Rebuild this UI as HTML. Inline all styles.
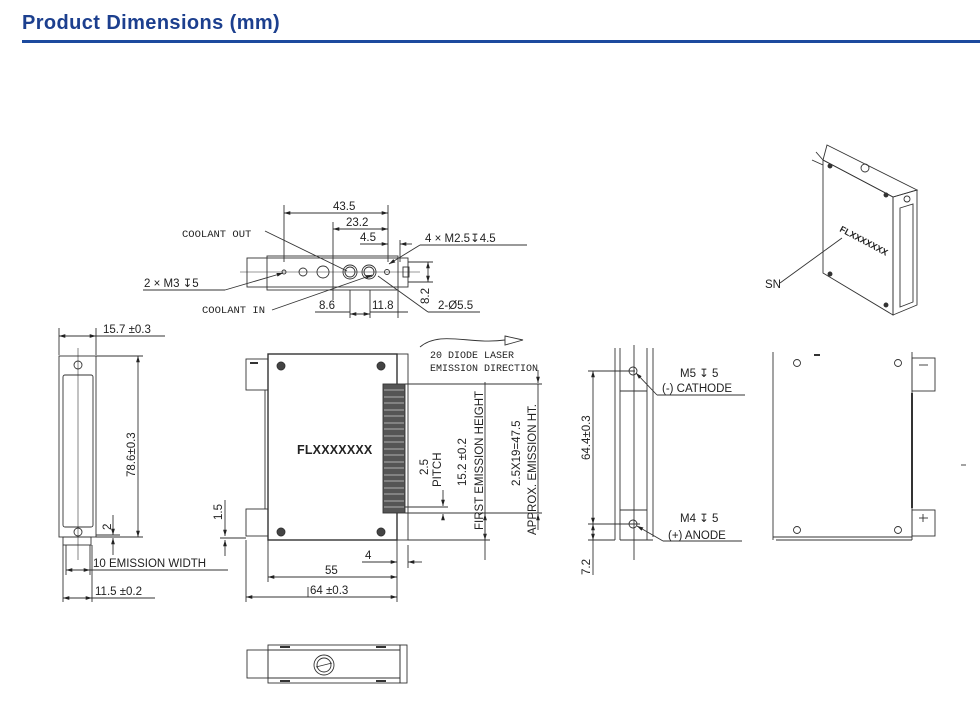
<!DOCTYPE html>
<html><head><meta charset="utf-8"><style>
body{margin:0;background:#fff;width:980px;height:723px;overflow:hidden;position:relative;font-family:"Liberation Sans",sans-serif}
h1{position:absolute;left:22px;top:12px;margin:0;font-size:20px;font-weight:bold;color:#1c3f8e;letter-spacing:0.4px}
.bar{position:absolute;left:22px;top:40px;width:958px;height:3px;background:#1c4a9e}
svg{position:absolute;left:0;top:0}
text{font-family:"Liberation Sans",sans-serif;font-size:11.5px;fill:#222}
.m{font-family:"Liberation Mono",monospace;font-size:10.5px}
</style></head><body>
<h1>Product Dimensions (mm)</h1><div class="bar"></div>
<svg width="980" height="723" viewBox="0 0 980 723">
<defs><marker id="a" viewBox="0 0 10 10" refX="10" refY="5" markerWidth="7" markerHeight="7" orient="auto-start-reverse"><path d="M0,2 L10,5 L0,8z" fill="#222"/></marker></defs>
<g stroke="#333" stroke-width="0.9" fill="none">
<!-- TOP VIEW -->
<rect x="247" y="258" width="161" height="29"/>
<rect x="267" y="256" width="131" height="34"/>
<line x1="240" y1="272" x2="420" y2="272" stroke-width="0.6"/>
<circle cx="284" cy="272" r="2"/><circle cx="303" cy="272" r="4"/><circle cx="323" cy="272" r="6"/>
<circle cx="350" cy="272" r="7"/><circle cx="350" cy="272" r="5"/><circle cx="369" cy="272" r="7"/><circle cx="369" cy="272" r="5"/>
<circle cx="387" cy="272" r="2.5"/><rect x="403" y="267" width="6" height="10"/>
<line x1="284" y1="205" x2="284" y2="262"/><line x1="388" y1="205" x2="388" y2="262"/><line x1="333" y1="222" x2="333" y2="300"/><line x1="400" y1="240" x2="400" y2="262"/>
<line x1="284" y1="213" x2="388" y2="213" marker-start="url(#a)" marker-end="url(#a)"/>
<line x1="333" y1="229" x2="388" y2="229" marker-start="url(#a)" marker-end="url(#a)"/>
<line x1="360" y1="244" x2="388" y2="244" marker-end="url(#a)"/><line x1="412" y1="244" x2="400" y2="244" marker-end="url(#a)"/>
<line x1="527" y1="245" x2="420" y2="245"/><line x1="420" y1="245" x2="389" y2="264" marker-end="url(#a)"/>
<line x1="265" y1="231" x2="347" y2="271"/>
<line x1="143" y1="290" x2="225" y2="290"/><line x1="225" y1="290" x2="283" y2="273" marker-end="url(#a)"/>
<line x1="272" y1="310" x2="372" y2="275" marker-end="url(#a)"/>
<line x1="378" y1="276" x2="428" y2="312"/><line x1="428" y1="312" x2="480" y2="312"/>
<line x1="350" y1="290" x2="350" y2="318"/><line x1="370" y1="290" x2="370" y2="318"/><line x1="398" y1="290" x2="398" y2="318"/>
<line x1="315" y1="312" x2="350" y2="312"/><line x1="350" y1="314" x2="370" y2="314" marker-start="url(#a)" marker-end="url(#a)"/>
<line x1="370" y1="312" x2="408" y2="312"/>
<line x1="408" y1="262" x2="433" y2="262"/><line x1="408" y1="282" x2="433" y2="282"/>
<line x1="428" y1="262" x2="428" y2="282" marker-start="url(#a)" marker-end="url(#a)"/>
<!-- LEFT END VIEW -->
<rect x="59" y="356" width="37" height="181"/>
<rect x="63" y="375" width="30" height="152" rx="2"/>
<line x1="78" y1="348" x2="78" y2="560" stroke-width="0.6"/>
<circle cx="78" cy="365" r="4"/><circle cx="78" cy="532" r="4"/>
<rect x="63" y="537" width="28" height="8"/>
<line x1="59" y1="328" x2="59" y2="355"/><line x1="96" y1="328" x2="96" y2="355"/>
<line x1="59" y1="336" x2="96" y2="336" marker-start="url(#a)" marker-end="url(#a)"/><line x1="96" y1="336" x2="165" y2="336"/>
<line x1="96" y1="356" x2="143" y2="356"/><line x1="96" y1="537" x2="143" y2="537"/>
<line x1="138" y1="356" x2="138" y2="537" marker-start="url(#a)" marker-end="url(#a)"/>
<line x1="96" y1="535" x2="120" y2="535"/>
<line x1="113" y1="515" x2="113" y2="535" marker-end="url(#a)"/><line x1="113" y1="555" x2="113" y2="538" marker-end="url(#a)"/>
<line x1="66" y1="545" x2="66" y2="575"/><line x1="90" y1="545" x2="90" y2="575"/>
<line x1="66" y1="570" x2="90" y2="570" marker-start="url(#a)" marker-end="url(#a)"/><line x1="90" y1="570" x2="228" y2="570"/>
<line x1="63" y1="545" x2="63" y2="602"/><line x1="92" y1="545" x2="92" y2="602"/>
<line x1="63" y1="598" x2="92" y2="598" marker-start="url(#a)" marker-end="url(#a)"/><line x1="92" y1="598" x2="155" y2="598"/>
<line x1="225" y1="500" x2="225" y2="536" marker-end="url(#a)"/><line x1="225" y1="556" x2="225" y2="540" marker-end="url(#a)"/>
<line x1="220" y1="538" x2="246" y2="538"/>
<!-- FRONT VIEW -->
<rect x="268" y="354" width="129" height="186" stroke-width="1.4"/>
<rect x="397" y="354" width="11" height="186"/>
<rect x="246" y="359" width="22" height="31"/><line x1="250" y1="363" x2="258" y2="363" stroke-width="2"/>
<rect x="246" y="509" width="22" height="27"/>
<line x1="265" y1="390" x2="265" y2="509"/>
<rect x="383" y="384" width="22" height="129" fill="#555"/>
<g stroke="#ccc" stroke-width="0.8">
<line x1="384" y1="390" x2="404" y2="390"/><line x1="384" y1="397" x2="404" y2="397"/><line x1="384" y1="403" x2="404" y2="403"/><line x1="384" y1="410" x2="404" y2="410"/><line x1="384" y1="416" x2="404" y2="416"/><line x1="384" y1="423" x2="404" y2="423"/><line x1="384" y1="429" x2="404" y2="429"/><line x1="384" y1="436" x2="404" y2="436"/><line x1="384" y1="442" x2="404" y2="442"/><line x1="384" y1="449" x2="404" y2="449"/><line x1="384" y1="455" x2="404" y2="455"/><line x1="384" y1="462" x2="404" y2="462"/><line x1="384" y1="468" x2="404" y2="468"/><line x1="384" y1="475" x2="404" y2="475"/><line x1="384" y1="481" x2="404" y2="481"/><line x1="384" y1="488" x2="404" y2="488"/><line x1="384" y1="494" x2="404" y2="494"/><line x1="384" y1="501" x2="404" y2="501"/><line x1="384" y1="507" x2="404" y2="507"/></g>
<circle cx="281" cy="366" r="4" fill="#444"/><circle cx="381" cy="366" r="4" fill="#444"/><circle cx="281" cy="532" r="4" fill="#444"/><circle cx="381" cy="532" r="4" fill="#444"/>
<line x1="405" y1="384" x2="542" y2="384"/><line x1="405" y1="513" x2="542" y2="513"/><line x1="408" y1="540" x2="490" y2="540"/>
<line x1="485" y1="382" x2="485" y2="540" marker-end="url(#a)"/><line x1="485" y1="560" x2="485" y2="514" marker-end="url(#a)"/>
<line x1="538" y1="370" x2="538" y2="383" marker-end="url(#a)"/><line x1="538" y1="530" x2="538" y2="514" marker-end="url(#a)"/><line x1="538" y1="384" x2="538" y2="513"/>
<line x1="443" y1="490" x2="443" y2="506" marker-end="url(#a)"/><line x1="443" y1="520" x2="443" y2="514" marker-end="url(#a)"/>
<line x1="405" y1="507" x2="448" y2="507"/>
<line x1="246" y1="540" x2="246" y2="602"/><line x1="268" y1="540" x2="268" y2="582"/><line x1="397" y1="540" x2="397" y2="602"/><line x1="408" y1="545" x2="408" y2="568"/>
<line x1="362" y1="562" x2="397" y2="562" marker-end="url(#a)"/><line x1="422" y1="562" x2="408" y2="562" marker-end="url(#a)"/>
<line x1="268" y1="577" x2="397" y2="577" marker-start="url(#a)" marker-end="url(#a)"/>
<line x1="246" y1="597" x2="397" y2="597" marker-start="url(#a)" marker-end="url(#a)"/><line x1="308" y1="587" x2="308" y2="597"/>
<path d="M420,347 C440,330 470,345 505,340"/><path d="M505,336 L523,340 L505,345z"/>
<!-- SIDE VIEW -->
<line x1="615" y1="348" x2="615" y2="540"/><line x1="620" y1="348" x2="620" y2="540"/><line x1="647" y1="348" x2="647" y2="540"/><line x1="653" y1="348" x2="653" y2="537"/>
<line x1="634" y1="345" x2="634" y2="560"/>
<line x1="620" y1="391" x2="647" y2="391"/><line x1="620" y1="510" x2="647" y2="510"/><line x1="620" y1="540" x2="653" y2="540"/>
<circle cx="633" cy="371" r="4"/><circle cx="633" cy="524" r="4"/>
<line x1="588" y1="371" x2="635" y2="371"/><line x1="588" y1="524" x2="640" y2="524"/><line x1="588" y1="540" x2="615" y2="540"/>
<line x1="593" y1="371" x2="593" y2="524" marker-start="url(#a)" marker-end="url(#a)"/>
<line x1="593" y1="524" x2="593" y2="540" marker-start="url(#a)" marker-end="url(#a)"/><line x1="593" y1="540" x2="593" y2="575"/>
<line x1="657" y1="395" x2="745" y2="395"/><line x1="657" y1="395" x2="636" y2="373" marker-end="url(#a)"/>
<line x1="663" y1="541" x2="742" y2="541"/><line x1="663" y1="541" x2="637" y2="526" marker-end="url(#a)"/>
<!-- BACK VIEW -->
<line x1="773" y1="352" x2="773" y2="540"/><line x1="912" y1="352" x2="912" y2="540"/>
<line x1="773" y1="537" x2="912" y2="537"/><line x1="776" y1="540" x2="912" y2="540"/>
<rect x="912" y="358" width="23" height="33"/><rect x="912" y="510" width="23" height="26"/>
<line x1="919" y1="365" x2="928" y2="365"/><line x1="923" y1="514" x2="923" y2="522"/><line x1="919" y1="518" x2="928" y2="518"/>
<line x1="912" y1="393" x2="912" y2="508" stroke-width="2"/>
<circle cx="797" cy="363" r="3.5"/><circle cx="898" cy="363" r="3.5"/><circle cx="797" cy="530" r="3.5"/><circle cx="898" cy="530" r="3.5"/>
<line x1="814" y1="355" x2="820" y2="355" stroke-width="2"/><line x1="961" y1="465" x2="966" y2="465"/>
<!-- 3D VIEW -->
<path d="M823,160 L893,197 L893,315 L823,273z"/>
<path d="M823,160 L827,145 L917,190 L893,197z"/>
<path d="M893,197 L917,190 L917,305 L893,315z"/>
<path d="M900,208 L913,204 L913,302 L900,307z"/>
<line x1="816" y1="152" x2="823" y2="160"/><line x1="812" y1="160" x2="823" y2="165"/>
<circle cx="865" cy="168" r="4"/><circle cx="907" cy="199" r="3"/>
<circle cx="830" cy="166" r="2" fill="#333"/><circle cx="886" cy="195" r="2" fill="#333"/><circle cx="830" cy="274" r="2" fill="#333"/><circle cx="886" cy="305" r="2" fill="#333"/>
<line x1="780" y1="283" x2="842" y2="238"/>
<!-- BOTTOM VIEW -->
<rect x="268" y="645" width="132" height="38"/>
<line x1="268" y1="650" x2="400" y2="650"/><line x1="268" y1="678" x2="400" y2="678"/>
<rect x="247" y="650" width="21" height="28"/><rect x="400" y="645" width="7" height="38"/>
<circle cx="324" cy="665" r="10"/><circle cx="324" cy="665" r="7"/><line x1="316" y1="667" x2="332" y2="663"/>
<line x1="280" y1="647" x2="290" y2="647" stroke-width="2"/><line x1="376" y1="647" x2="386" y2="647" stroke-width="2"/>
<line x1="280" y1="681" x2="290" y2="681" stroke-width="2"/><line x1="376" y1="681" x2="386" y2="681" stroke-width="2"/>
</g>
<g>
<text x="333" y="210">43.5</text><text x="346" y="226">23.2</text><text x="360" y="241">4.5</text>
<text x="425" y="242">4 × M2.5↧4.5</text>
<text class="m" x="182" y="237">COOLANT OUT</text>
<text x="144" y="287">2 × M3 ↧5</text>
<text class="m" x="202" y="313">COOLANT IN</text>
<text x="319" y="309">8.6</text><text x="372" y="309">11.8</text>
<text x="438" y="309">2-Ø5.5</text>
<text transform="translate(429,304) rotate(-90)">8.2</text>
<text x="103" y="333">15.7 ±0.3</text>
<text transform="translate(135,477) rotate(-90)">78.6±0.3</text>
<text transform="translate(111,530) rotate(-90)">2</text>
<text x="93" y="567">10 EMISSION WIDTH</text>
<text x="95" y="595">11.5 ±0.2</text>
<text transform="translate(222,520) rotate(-90)">1.5</text>
<text x="297" y="454" style="font-weight:bold;font-size:12.5px;letter-spacing:0.2px">FLXXXXXXX</text>
<text class="m" x="430" y="358" style="font-size:10px">20 DIODE LASER</text>
<text class="m" x="430" y="371" style="font-size:10px">EMISSION DIRECTION</text>
<text transform="translate(428,475) rotate(-90)">2.5</text>
<text transform="translate(441,487) rotate(-90)">PITCH</text>
<text transform="translate(466,486) rotate(-90)">15.2 ±0.2</text>
<text transform="translate(483,530) rotate(-90)">FIRST EMISSION HEIGHT</text>
<text transform="translate(520,486) rotate(-90)">2.5X19=47.5</text>
<text transform="translate(536,535) rotate(-90)">APPROX. EMISSION HT.</text>
<text x="365" y="559">4</text><text x="325" y="574">55</text><text x="310" y="594">64 ±0.3</text>
<text transform="translate(590,460) rotate(-90)">64.4±0.3</text>
<text transform="translate(590,575) rotate(-90)">7.2</text>
<text x="680" y="377">M5 ↧ 5</text><text x="662" y="392">(-) CATHODE</text>
<text x="680" y="522">M4 ↧ 5</text><text x="668" y="539">(+) ANODE</text>
<text x="765" y="288">SN</text>
<text transform="translate(839,231) rotate(28)" style="font-size:9px;font-weight:bold">FLXXXXXXX</text>
</g>
</svg>
</body></html>
